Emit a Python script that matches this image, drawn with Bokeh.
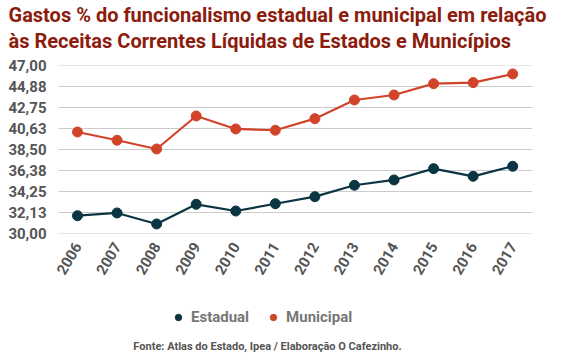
from bokeh.plotting import figure
from bokeh.models import Range1d, FixedTicker, Title, Legend, LegendItem, Label
from bokeh.layouts import column
from bokeh.embed import file_html
from bokeh.resources import INLINE
import math

years = [2006, 2007, 2008, 2009, 2010, 2011, 2012, 2013, 2014, 2015, 2016, 2017]
estadual = [31.76, 32.04, 30.92, 32.92, 32.24, 32.98, 33.70, 34.86, 35.40, 36.55, 35.77, 36.79]
municipal = [40.28, 39.44, 38.55, 41.91, 40.59, 40.46, 41.64, 43.54, 44.05, 45.20, 45.31, 46.19]
y_ticks = [30.0, 32.125, 34.25, 36.375, 38.5, 40.625, 42.75, 44.875, 47.0]
y_tick_labels = ["30,00", "32,13", "34,25", "36,38", "38,50", "40,63", "42,75", "44,88", "47,00"]
title_lines = ["Gastos % do funcionalismo estadual e municipal em relação",
               "às Receitas Correntes Líquidas de Estados e Municípios"]
series_names = ["Estadual", "Municipal"]
source_text = "Fonte: Atlas do Estado, Ipea / Elaboração O Cafezinho."

C_EST = "#0b3540"
C_MUN = "#d1442a"
C_TITLE = "#8c1c0e"
FONT = "Roboto"

p = figure(width=566, height=290, output_backend="svg", toolbar_location=None,
           title=None,
           x_range=Range1d(2005.52, 2017.5), y_range=Range1d(29.95, 47.05),
           min_border_left=58, min_border_right=34, min_border_top=64,
           min_border_bottom=57)
p.outline_line_color = None
p.background_fill_color = "white"
p.border_fill_color = "white"

p.xgrid.grid_line_color = None
p.ygrid.grid_line_color = "#cccccc"
p.ygrid.grid_line_width = 1
p.yaxis.ticker = FixedTicker(ticks=y_ticks)
p.yaxis.major_label_overrides = {t: l for t, l in zip(y_ticks, y_tick_labels)}
p.xaxis.ticker = FixedTicker(ticks=years)
p.xaxis.major_label_orientation = math.pi / 3
for ax in (p.xaxis, p.yaxis):
    ax.axis_line_color = None
    ax.major_tick_line_color = None
    ax.minor_tick_line_color = None
    ax.major_label_text_font = FONT
    ax.major_label_text_font_style = "bold"
    ax.major_label_text_font_size = "15px"
    ax.major_label_text_color = "#555555"
p.yaxis.major_label_standoff = 6
p.xaxis.major_label_standoff = 4

p.line(years, estadual, line_color=C_EST, line_width=2.2)
p.scatter(years, estadual, size=10, fill_color=C_EST, line_color=C_EST)
p.line(years, municipal, line_color=C_MUN, line_width=2.2)
p.scatter(years, municipal, size=10, fill_color=C_MUN, line_color=C_MUN)

# spacer between the title and the frame, then the two title lines
p.add_layout(Title(text=" ", text_font_size="10px", text_line_height=1.0,
                   standoff=0), "above")
for t in reversed(title_lines):
    p.add_layout(Title(text=t, align="left", offset=-50, text_font=FONT,
                       text_font_style="bold", text_font_size="20px",
                       text_line_height=1.0,
                       text_color=C_TITLE, standoff=0), "above")

# legend + source strip (frame is aligned with the main plot's frame)
p2 = figure(width=566, height=63, output_backend="svg", toolbar_location=None,
            x_range=Range1d(0, 1), y_range=Range1d(0, 1),
            min_border=0, x_axis_type=None, y_axis_type=None)
p2.outline_line_color = None
p2.grid.visible = False
r_est = p2.scatter(x=[-1], y=[-1], size=10, fill_color=C_EST, line_color=C_EST)
r_mun = p2.scatter(x=[-1], y=[-1], size=10, fill_color=C_MUN, line_color=C_MUN)
legend = Legend(items=[LegendItem(label=series_names[0], renderers=[r_est]),
                       LegendItem(label=series_names[1], renderers=[r_mun])],
                orientation="horizontal", location=(112, 26),
                label_text_font=FONT, label_text_font_style="bold",
                label_text_font_size="15px", label_text_color="#777777",
                border_line_color=None, background_fill_alpha=0,
                glyph_width=16, label_standoff=5, spacing=16, padding=0, margin=0)
p2.add_layout(legend, "center")
p2.add_layout(Label(x=209, y=7, x_units="screen", y_units="screen",
                    text=source_text, text_font=FONT,
                    text_font_style="bold", text_font_size="11px",
                    text_color="#555555", text_align="center",
                    text_baseline="middle"))

layout = column(p, p2, spacing=0)
open("out.html", "w").write(file_html(layout, INLINE))
